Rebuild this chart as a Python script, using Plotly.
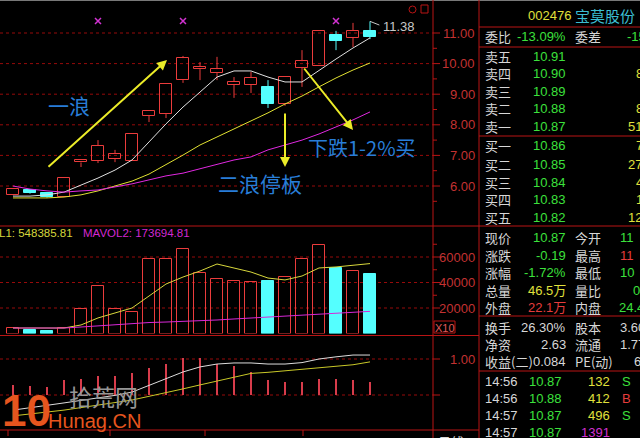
import plotly.graph_objects as go

W, H = 640, 438

# ---------------- data ----------------
idx = list(range(22))
opens  = [5.71, 5.87, 5.77, 5.64, 6.77, 6.82, 6.88, 6.82, 8.29, 8.35, 9.46, 9.82, 9.69, 9.30, 9.30, 9.24, 8.68, 9.86, 9.92, 10.93, 10.84, 11.06]
highs  = [5.92, 5.90, 5.79, 6.26, 6.85, 7.50, 7.18, 7.70, 8.45, 9.33, 10.25, 10.05, 10.22, 9.56, 9.73, 9.46, 9.56, 10.44, 11.07, 11.07, 11.33, 11.38]
lows   = [5.70, 5.75, 5.62, 5.64, 6.62, 6.75, 6.78, 6.82, 8.09, 8.22, 9.37, 9.46, 9.46, 8.88, 9.04, 8.55, 8.62, 9.24, 9.92, 10.44, 10.54, 10.80]
closes = [5.90, 5.77, 5.64, 6.26, 6.85, 7.31, 7.05, 7.70, 8.45, 9.33, 10.18, 9.89, 9.82, 9.40, 9.53, 8.68, 9.56, 10.08, 11.07, 10.74, 11.07, 10.87]
ma5  = [5.67, 5.67, 5.71, 5.80, 6.03, 6.26, 6.52, 6.85, 7.44, 8.03, 8.58, 9.07, 9.56, 9.76, 9.76, 9.56, 9.40, 9.40, 9.79, 10.15, 10.51, 10.84]
ma10 = [5.61, 5.61, 5.61, 5.64, 5.71, 5.84, 6.00, 6.16, 6.39, 6.69, 7.01, 7.34, 7.60, 7.86, 8.12, 8.39, 8.68, 8.94, 9.24, 9.53, 9.79, 10.02]
ma30 = [6.00, 5.90, 5.84, 5.80, 5.84, 5.87, 5.97, 6.07, 6.20, 6.33, 6.42, 6.56, 6.72, 6.85, 6.95, 7.18, 7.34, 7.50, 7.70, 7.93, 8.16, 8.42]
marker_idx = [5, 10, 19]
marker_price = [11.39, 11.39, 11.39]

volume = [4300, 2750, 2350, 4300, 19200, 37000, 19200, 17100, 58200, 58200, 66300, 47200, 42500, 41200, 40200, 41200, 44300, 58200, 69600, 51600, 49300, 46500]
mavol1 = [4300, 4300, 4300, 4300, 6700, 12200, 16100, 20000, 29400, 38800, 44300, 49000, 54500, 51400, 48200, 43500, 42000, 45100, 51400, 52200, 53700, 54838]
mavol2 = [4300, 4300, 4300, 4300, 5100, 6000, 7100, 8000, 8600, 9000, 9400, 9800, 10600, 11400, 12200, 12900, 13700, 14500, 15300, 16100, 16600, 17369]

dif  = [-0.42, -0.36, -0.29, -0.22, -0.15, -0.09, -0.01, 0.08, 0.26, 0.46, 0.64, 0.78, 0.86, 0.89, 0.89, 0.86, 0.86, 0.90, 1.00, 1.06, 1.11, 1.11]
dea  = [-0.58, -0.53, -0.49, -0.42, -0.35, -0.29, -0.21, -0.14, -0.04, 0.05, 0.17, 0.28, 0.38, 0.48, 0.60, 0.63, 0.67, 0.71, 0.76, 0.79, 0.84, 0.92]
macd = [0.28, 0.25, 0.22, 0.42, 0.44, 0.53, 0.53, 0.61, 0.75, 0.86, 1.03, 1.03, 0.86, 0.81, 0.64, 0.42, 0.36, 0.36, 0.44, 0.44, 0.42, 0.36]

price_ticks = [6, 7, 8, 9, 10, 11]
price_tick_labels = ["6.00", "7.00", "8.00", "9.00", "10.00", "11.00"]
vol_ticks = [20000, 40000, 60000]
vol_tick_labels = ["20000", "40000", "60000"]
macd_grid = [0.0, 1.0]
macd_tick_labels = {1.0: "1.00"}

stock_code, stock_name = "002476", "宝莫股份"
ask_labels = ["卖五", "卖四", "卖三", "卖二", "卖一"]
ask_prices = ["10.91", "10.90", "10.89", "10.88", "10.87"]
ask_vols = ["", "8", "", "8", "51"]
bid_labels = ["买一", "买二", "买三", "买四", "买五"]
bid_prices = ["10.86", "10.85", "10.84", "10.83", "10.82"]
bid_vols = ["7", "27", "4", "1", "12"]

# ---------------- styling ----------------
NUM = "Liberation Sans, Arial, Noto Sans CJK SC"
CJK = "Noto Sans CJK SC"
UP = "rgb(235,60,60)"
DOWN = "rgb(84,255,255)"
GRID = "rgb(150,10,10)"
BORDER = "rgb(185,20,20)"
AXL = "rgb(195,50,50)"
GREEN = "rgb(60,225,60)"
YELLOW = "rgb(225,225,60)"
REDT = "rgb(230,60,60)"
WHITE = "rgb(215,215,215)"
MAG = "rgb(210,50,210)"
BLUE = "rgb(40,125,215)"
ARROW = "rgb(235,235,40)"
CJK_SIZE = 13

PLOT_R = 433  # right edge of the chart area in px


def px(x):
    return x / W


def py(y):
    return 1 - y / H


# pixel calibration of each panel
P_PER = 30.6      # px per 1.00 price
P_REF_Y = 33      # y pixel of 11.00
price_top = 11 + P_REF_Y / P_PER
price_bot = 11 - (226 - P_REF_Y) / P_PER
V_ZERO = 333.5
V_PER = 25.5 / 20000
vol_top = (V_ZERO - 228) / V_PER
M_ZERO = 395
M_PER = 36

up = [c >= o for o, c in zip(opens, closes)]

fig = go.Figure()

# candle wicks
for flag, col in [(True, UP), (False, DOWN)]:
    wx, wy = [], []
    for i in idx:
        if up[i] != flag:
            continue
        top = max(opens[i], closes[i])
        bot = min(opens[i], closes[i])
        wx += [i, i, None, i, i, None]
        wy += [highs[i], top, None, bot, lows[i], None]
    fig.add_trace(go.Scatter(x=wx, y=wy, mode="lines", line=dict(color=col, width=1),
                             hoverinfo="skip", yaxis="y"))

# candle bodies
fig.add_trace(go.Bar(
    x=idx,
    y=[max(abs(c - o), 0.02) for o, c in zip(opens, closes)],
    base=[min(o, c) for o, c in zip(opens, closes)],
    width=0.7,
    marker=dict(color=["rgba(0,0,0,0)" if u else DOWN for u in up],
                line=dict(color=[UP if u else DOWN for u in up], width=1)),
    yaxis="y", hoverinfo="skip"))

for ser, col in [(ma5, "rgb(225,225,225)"), (ma10, "rgb(225,225,50)"), (ma30, "rgb(225,40,225)")]:
    fig.add_trace(go.Scatter(x=idx, y=ser, mode="lines", line=dict(color=col, width=1),
                             yaxis="y", hoverinfo="skip"))

fig.add_trace(go.Scatter(x=marker_idx, y=marker_price, mode="markers",
                         marker=dict(symbol="x-thin", size=6, line=dict(color=MAG, width=1.5)),
                         yaxis="y", hoverinfo="skip"))

# volume
fig.add_trace(go.Bar(
    x=idx, y=volume, width=0.68,
    marker=dict(color=["rgba(0,0,0,0)" if u else DOWN for u in up],
                line=dict(color=[UP if u else DOWN for u in up], width=1)),
    yaxis="y2", hoverinfo="skip"))
fig.add_trace(go.Scatter(x=idx, y=mavol1, mode="lines", line=dict(color="rgb(215,215,60)", width=1),
                         yaxis="y2", hoverinfo="skip"))
fig.add_trace(go.Scatter(x=idx, y=mavol2, mode="lines", line=dict(color="rgb(215,40,215)", width=1),
                         yaxis="y2", hoverinfo="skip"))

# macd
fig.add_trace(go.Bar(x=idx, y=macd, width=0.1, marker=dict(color="rgb(215,60,75)", line=dict(width=0)),
                     yaxis="y3", hoverinfo="skip"))
fig.add_trace(go.Scatter(x=idx, y=dif, mode="lines", line=dict(color="rgb(220,220,220)", width=1),
                         yaxis="y3", hoverinfo="skip"))
fig.add_trace(go.Scatter(x=idx, y=dea, mode="lines", line=dict(color="rgb(200,200,40)", width=1),
                         yaxis="y3", hoverinfo="skip"))

shapes = []
ann = []


def hline(y, x0, x1, color=BORDER, width=1, dash="solid"):
    shapes.append(dict(type="line", xref="paper", yref="paper", x0=px(x0), x1=px(x1),
                       y0=py(y), y1=py(y), line=dict(color=color, width=width, dash=dash)))


def vline(x, y0, y1, color=BORDER, width=1):
    shapes.append(dict(type="line", xref="paper", yref="paper", x0=px(x), x1=px(x),
                       y0=py(y0), y1=py(y1), line=dict(color=color, width=width)))


def txt(x, y, s, color, size=13, anchor="left", family=NUM):
    ann.append(dict(xref="paper", yref="paper", x=px(x), y=py(y), text=s, showarrow=False,
                    xanchor=anchor, yanchor="middle",
                    font=dict(family=family, size=size, color=color)))


# gridlines (dotted, behind the marks)
for v in price_ticks:
    shapes.append(dict(type="line", xref="paper", yref="y", x0=0, x1=px(PLOT_R), y0=v, y1=v, layer="below",
                       line=dict(color=GRID, width=1, dash="dot")))
    shapes.append(dict(type="line", xref="paper", yref="y", x0=px(PLOT_R), x1=px(PLOT_R + 7), y0=v, y1=v,
                       line=dict(color=BORDER, width=1)))
    shapes.append(dict(type="line", xref="paper", yref="y", x0=px(PLOT_R), x1=px(PLOT_R + 4), y0=v - 0.5, y1=v - 0.5,
                       line=dict(color=BORDER, width=1)))
for v, lab in zip(price_ticks, price_tick_labels):
    ann.append(dict(xref="paper", yref="y", x=px(477), y=v, text=lab, showarrow=False, xanchor="right",
                    yanchor="middle", font=dict(family=NUM, size=13, color=AXL)))
for v in vol_ticks:
    shapes.append(dict(type="line", xref="paper", yref="y2", x0=0, x1=px(PLOT_R), y0=v, y1=v, layer="below",
                       line=dict(color=GRID, width=1, dash="dot")))
    shapes.append(dict(type="line", xref="paper", yref="y2", x0=px(PLOT_R), x1=px(PLOT_R + 7), y0=v, y1=v,
                       line=dict(color=BORDER, width=1)))
    shapes.append(dict(type="line", xref="paper", yref="y2", x0=px(PLOT_R), x1=px(PLOT_R + 4), y0=v + 10000, y1=v + 10000,
                       line=dict(color=BORDER, width=1)))
for v, lab in zip(vol_ticks, vol_tick_labels):
    ann.append(dict(xref="paper", yref="y2", x=px(477), y=v, text=lab, showarrow=False, xanchor="right",
                    yanchor="middle", font=dict(family=NUM, size=13, color=AXL)))
for v in macd_grid:
    shapes.append(dict(type="line", xref="paper", yref="y3", x0=0, x1=px(PLOT_R), y0=v, y1=v, layer="below",
                       line=dict(color=GRID, width=1, dash="dot")))
    shapes.append(dict(type="line", xref="paper", yref="y3", x0=px(PLOT_R), x1=px(PLOT_R + 7), y0=v, y1=v,
                       line=dict(color=BORDER, width=1)))
for v, lab in macd_tick_labels.items():
    ann.append(dict(xref="paper", yref="y3", x=px(477), y=v, text=lab, showarrow=False, xanchor="right",
                    yanchor="middle", font=dict(family=NUM, size=13, color=AXL)))

# frame lines
hline(0.5, 0, 640, color="rgb(120,120,120)")
vline(PLOT_R, 0, 438)
vline(479, 0, 438)
hline(226, 0, 640)
hline(335.5, 0, 479)
hline(430, 0, 479)
for yy in [27, 47, 136, 316, 371]:
    hline(yy, 479, 640)
for xx in [8, 110, 205, 303]:
    vline(xx, 430, 436)

# X10 box
shapes.append(dict(type="rect", xref="paper", yref="paper", x0=px(434), x1=px(455), y0=py(333), y1=py(321),
                   line=dict(color=BORDER, width=1)))
txt(444.5, 327.5, "X10", "rgb(225,90,90)", size=11, anchor="center")

# top-right icons
shapes.append(dict(type="circle", xref="paper", yref="paper", x0=px(409), x1=px(416), y0=py(13), y1=py(6),
                   line=dict(color=BORDER, width=1)))
shapes.append(dict(type="rect", xref="paper", yref="paper", x0=px(421), x1=px(428), y0=py(13), y1=py(5),
                   line=dict(color=BORDER, width=1)))

# high label
hi_i = max(idx, key=lambda i: highs[i])
shapes.append(dict(type="line", xref="x", yref="y", x0=hi_i, y0=highs[hi_i], x1=hi_i + 0.55, y1=highs[hi_i] - 0.12,
                   line=dict(color="rgb(200,200,200)", width=1)))
ann.append(dict(xref="x", yref="y", x=hi_i, y=highs[hi_i], text=f"{highs[hi_i]:.2f}", showarrow=False,
                xanchor="left", yanchor="middle", xshift=11, yshift=-5,
                font=dict(family=NUM, size=13, color="rgb(200,200,200)")))

# volume legend
txt(75, 233, "MAVOL1: 548385.81", "rgb(215,215,60)", size=11.5, anchor="right")
txt(81, 233, "MAVOL2: 173694.81", "rgb(210,40,210)", size=11.5, anchor="left")


# annotations: arrows + blue notes
def arrow(x0, y0, x1, y1):
    ann.append(dict(xref="paper", yref="paper", x=px(x1), y=py(y1), ax=x0 - x1, ay=y0 - y1,
                    axref="pixel", ayref="pixel", text="", showarrow=True, arrowhead=2,
                    arrowsize=1, arrowwidth=2, arrowcolor=ARROW, standoff=0, startstandoff=0))


arrow(47, 168, 167, 60)
arrow(285, 112, 285, 167)
arrow(303, 67, 353, 130)
txt(69, 105, "一浪", BLUE, size=21, anchor="center", family=CJK)
txt(260, 183, "二浪停板", BLUE, size=21, anchor="center", family=CJK)
txt(362, 147, "下跌1-2%买", BLUE, size=20, anchor="center", family=CJK)

# watermark
txt(26, 410, "<b>10</b>", "rgb(230,85,30)", size=44, anchor="center", family=NUM)
txt(103, 396, "拾荒网", "rgb(150,150,150)", size=23, anchor="center", family=CJK)
txt(94, 421, "Hunag.CN", "rgb(230,85,30)", size=20, anchor="center", family=NUM)

# ---------------- right info panel ----------------
txt(549, 15, stock_code, YELLOW, size=13, anchor="center")
txt(605, 15, stock_name, "rgb(60,190,210)", size=15, anchor="center", family=CJK)
txt(483, 37, "委比", WHITE, size=CJK_SIZE, family=CJK)
txt(568, 37, "-13.09%", GREEN, anchor="right")
txt(573, 37, "委差", WHITE, size=CJK_SIZE, family=CJK)
txt(625, 37, "-15", GREEN)

ask_y = [57, 74, 91, 108, 126]
for yy, lab, pr, vv in zip(ask_y, ask_labels, ask_prices, ask_vols):
    txt(483, yy, lab, WHITE, size=CJK_SIZE, family=CJK)
    txt(568, yy, pr, GREEN, anchor="right")
    if vv:
        txt(634 if len(vv) == 1 else 626, yy, vv, YELLOW)
bid_y = [146, 164, 182, 199, 217]
for yy, lab, pr, vv in zip(bid_y, bid_labels, bid_prices, bid_vols):
    txt(483, yy, lab, WHITE, size=CJK_SIZE, family=CJK)
    txt(568, yy, pr, GREEN, anchor="right")
    txt(634 if len(vv) == 1 else 626, yy, vv, YELLOW)

stats = [
    (237, "现价", "10.87", GREEN, "今开", "11", GREEN, 618),
    (255, "涨跌", "-0.19", GREEN, "最高", "11", REDT, 618),
    (272, "涨幅", "-1.72%", GREEN, "最低", "10", GREEN, 618),
    (290, "总量", "46.5万", YELLOW, "量比", "0", GREEN, 631),
    (307, "外盘", "22.1万", REDT, "内盘", "24.4", GREEN, 617),
    (327, "换手", "26.30%", WHITE, "股本", "3.60", WHITE, 618),
    (344, "净资", "2.63", WHITE, "流通", "1.77", WHITE, 618),
    (361, "收益(二)", "0.084", WHITE, "PE(动)", "6", WHITE, 632),
]
for yy, l1, v1, c1, l2, v2, c2, x2 in stats:
    txt(483, yy, l1, WHITE, size=CJK_SIZE, family=CJK)
    txt(568, yy, v1, c1, anchor="right")
    txt(573, yy, l2, WHITE, size=CJK_SIZE, family=CJK)
    txt(x2, yy, v2, c2)

trades = [
    (381, "14:56", "10.87", "132", YELLOW, "S", GREEN),
    (398, "14:56", "10.88", "412", YELLOW, "B", REDT),
    (415, "14:57", "10.87", "496", YELLOW, "S", GREEN),
    (432, "14:57", "10.87", "1391", MAG, "", GREEN),
]
for yy, t, p, v, vc, s, sc in trades:
    txt(483, yy, t, WHITE)
    txt(564, yy, p, GREEN, anchor="right")
    txt(612, yy, v, vc, anchor="right")
    if s:
        txt(620, yy, s, sc)
txt(451, 441, "日线", WHITE, size=13, anchor="center", family=CJK)

fig.update_layout(
    width=W, height=H, autosize=False,
    margin=dict(l=0, r=0, t=0, b=0),
    paper_bgcolor="black", plot_bgcolor="black",
    showlegend=False, barmode="overlay", bargap=0,
    xaxis=dict(domain=[0, PLOT_R / W], range=[-13 / 17, (PLOT_R - 13) / 17], visible=False, fixedrange=True),
    yaxis=dict(domain=[1 - 226 / H, 1], range=[price_bot, price_top], visible=False, fixedrange=True),
    yaxis2=dict(domain=[1 - V_ZERO / H, 1 - 228 / H], range=[0, vol_top], visible=False, anchor="x", fixedrange=True),
    yaxis3=dict(domain=[1 - 430 / H, 1 - 337 / H],
                range=[(M_ZERO - 430) / M_PER, (M_ZERO - 337) / M_PER], visible=False, anchor="x", fixedrange=True),
    shapes=shapes, annotations=ann,
)

fig.write_html("out.html", config={"displayModeBar": False},
               post_script="document.body.style.margin='0';document.body.style.overflow='hidden';")
